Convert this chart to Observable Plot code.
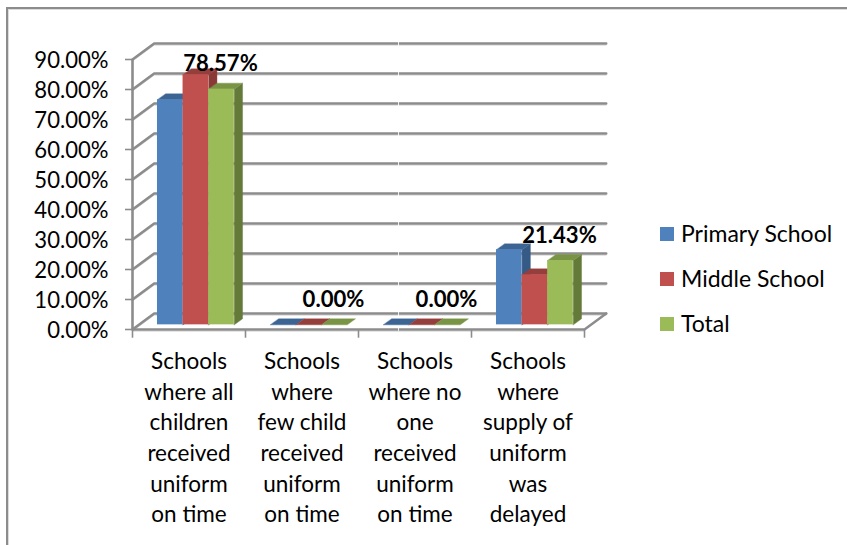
<!DOCTYPE html>
<html>
<head>
<meta charset="utf-8">
<script src="https://cdn.jsdelivr.net/npm/d3@7"></script>
<script src="https://cdn.jsdelivr.net/npm/@observablehq/plot@0.6"></script>
<style>
  html, body { margin: 0; padding: 0; background: #fff; }
  #frame { position: absolute; left: 6px; top: 7px; right: 0; bottom: 0; border-top: 2px solid #8c8c8c; border-left: 2px solid #8c8c8c; box-shadow: inset 1px 1px 0 #dcdcdc; }
  #chart { position: absolute; left: 0; top: 0; }
  #chart svg { display: block; }
  #legend { position: absolute; left: 660px; top: 212px; font: 23px Lato, sans-serif; color: #000; }
  .entry { position: absolute; left: 0; height: 30px; line-height: 30px; white-space: nowrap; }
  .entry i { position: absolute; left: 0; top: 8px; width: 14px; height: 14px; }
  .entry span { position: absolute; left: 21px; top: -1px; }
</style>
</head>
<body>
<div id="frame"></div>
<div id="chart"></div>
<div id="legend"></div>
<script>
// Uniform delivery survey, percent of schools by category and school type.
const categories = [
  "Schools\nwhere all\nchildren\nreceived\nuniform\non time",
  "Schools\nwhere\nfew child\nreceived\nuniform\non time",
  "Schools\nwhere no\none\nreceived\nuniform\non time",
  "Schools\nwhere\nsupply of\nuniform\nwas\ndelayed"
];
const seriesNames = ["Primary School", "Middle School", "Total"];
const primarySchool = [75, 0, 0, 25];
const middleSchool = [83.33, 0, 0, 16.67];
const total = [78.57, 0, 0, 21.43];
const seriesValues = [primarySchool, middleSchool, total];
const yTicks = [0, 10, 20, 30, 40, 50, 60, 70, 80, 90];

const frontColors = ["#4f81bd", "#c0504d", "#9bbb59"];
const topColors = ["#3d6594", "#953e3c", "#7a9446"];
const sideColors = ["#345a85", "#8a3937", "#637a39"];
const gridColor = "#8c8c8c";
const labelFont = "Lato, sans-serif";
const labelSize = 22.5;
const numberSize = 22.1;

// Oblique projection: x is in category widths, y in percentage points.
const wallX = 0.192, wallY = 5.33;   // depth of the floor and back wall
const barInsetX = 0.221, barInsetY = 1.55;
const barWidth = 0.2265;
const barDepthX = 0.0735, barDepthY = 2;

const polygon = (points, fill) => Plot.line(points, {
  x: "0", y: "1", fill, stroke: fill, strokeWidth: 0.4, curve: "linear-closed"
});

const marks = [];

// Back wall gridlines with their diagonals down to the front axis.
for (const v of yTicks) {
  const grid = [[0, v], [wallX, v + wallY], [categories.length + wallX, v + wallY]];
  marks.push(Plot.line(grid, {x: "0", y: "1", stroke: "#d4d4d4", strokeWidth: 1, dy: 1.6}));
  marks.push(Plot.line(grid, {x: "0", y: "1", stroke: gridColor, strokeWidth: 2.6}));
  marks.push(Plot.ruleY([v], {x1: -0.062, x2: 0, stroke: gridColor, strokeWidth: 1.6}));
}

// Floor edges, front axis line and category ticks.
marks.push(Plot.line([[categories.length + wallX, wallY], [categories.length, 0]], {x: "0", y: "1", stroke: gridColor, strokeWidth: 2.4}));
marks.push(Plot.ruleY([0], {x1: 0, x2: categories.length, stroke: "#d4d4d4", strokeWidth: 1, dy: 1.6}));
marks.push(Plot.ruleY([0], {x1: 0, x2: categories.length, stroke: gridColor, strokeWidth: 2.6}));
marks.push(Plot.ruleX([0], {y1: 0, y2: 90, stroke: gridColor, strokeWidth: 2.6}));
marks.push(Plot.ruleX(d3.range(categories.length + 1), {y1: 0, y2: -2.9, stroke: gridColor, strokeWidth: 1.6}));

// Thin light seam across the wall, just right of the second category boundary.
marks.push(Plot.ruleX([2.354], {y1: -0.6, y2: 90 + wallY + 1, stroke: "#fff", strokeWidth: 1, strokeOpacity: 0.85}));

// Bars are painted series by series so each one overlaps the previous side face.
categories.forEach((_, c) => {
  seriesValues.forEach((values, s) => {
    const v = values[c];
    const x1 = c + barInsetX + s * barWidth;
    const x2 = x1 + barWidth;
    const y0 = barInsetY;
    const y1 = y0 + v;
    if (v > 0) {
      marks.push(polygon([[x2, y0], [x2 + barDepthX, y0 + barDepthY], [x2 + barDepthX, y1 + barDepthY], [x2, y1]], sideColors[s]));
    }
    marks.push(polygon([[x1, y1], [x2, y1], [x2 + barDepthX, y1 + barDepthY], [x1 + barDepthX, y1 + barDepthY]], topColors[s]));
    if (v > 0) {
      marks.push(Plot.rectY([v], {x1, x2, y1: y0, y2: y1, fill: frontColors[s]}));
    }
  });
});

// Value labels sit over the last series of each category.
marks.push(Plot.text(total, {
  x: (d, i) => i + barInsetX + 2.5 * barWidth,
  y: d => d + barInsetY,
  text: d => d3.format(".2f")(d) + "%",
  dx: -1,
  dy: -25,
  fontSize: numberSize,
  fontWeight: "bold",
  fontFamily: labelFont,
  fill: "#000"
}));

// Value axis labels.
marks.push(Plot.text(yTicks, {
  x: 0, y: d => d, text: d => d3.format(".2f")(d) + "%",
  textAnchor: "end", dx: -24, dy: 1.5,
  fontSize: numberSize, fontFamily: labelFont, fill: "#000"
}));

// Category labels under the axis.
marks.push(Plot.text(categories, {
  x: (d, i) => i + 0.5, y: 0, text: d => d,
  lineAnchor: "top", dy: 18, lineHeight: 1.36,
  fontSize: labelSize, fontFamily: labelFont, fill: "#000"
}));

const chart = Plot.plot({
  width: 847,
  height: 545,
  marginLeft: 132,
  marginRight: 263,
  marginTop: 59,
  marginBottom: 216,
  style: {background: "transparent", overflow: "visible"},
  x: {domain: [0, categories.length], axis: null},
  y: {domain: [0, 90], axis: null},
  marks
});
document.getElementById("chart").append(chart);

// Legend entries to the right of the plot.
const legend = d3.select("#legend");
seriesNames.forEach((name, i) => {
  const entry = legend.append("div").attr("class", "entry").style("top", `${7 + i * 45}px`);
  entry.append("i").style("background", frontColors[i]);
  entry.append("span").text(name);
});
</script>
</body>
</html>
